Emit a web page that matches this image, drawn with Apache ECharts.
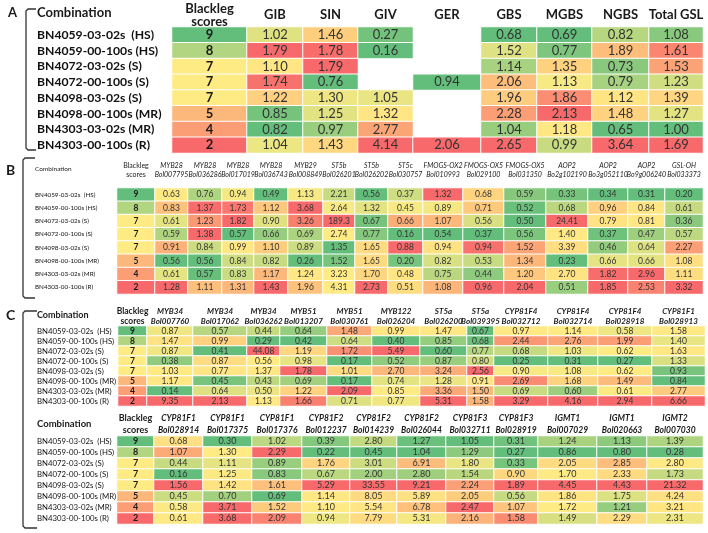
<!DOCTYPE html>
<html><head><meta charset="utf-8">
<script src="https://cdn.jsdelivr.net/npm/echarts@6/dist/echarts.min.js"></script>
<style>html,body{margin:0;padding:0;background:#fff}#c{width:708px;height:533px}</style>
</head><body><div id="c"></div>
<script>
// ---------- DATA ----------
const combos = ["BN4059-03-02s  (HS)","BN4059-00-100s (HS)","BN4072-03-02s (S)","BN4072-00-100s (S)","BN4098-03-02s (S)","BN4098-00-100s (MR)","BN4303-03-02s (MR)","BN4303-00-100s (R)"];
const blackleg = [9,8,7,7,7,5,4,2];
const blacklegHeader = "Blackleg\nscores";

// Panel A
const headersA = ["GIB","SIN","GIV","GER","GBS","MGBS","NGBS","Total GSL"];
const gib = [1.02,1.79,1.10,1.74,1.22,0.85,0.82,1.04];
const sin = [1.46,1.78,1.79,0.76,1.30,1.25,0.97,1.43];
const giv = [0.27,0.16,null,null,1.05,1.32,2.77,4.14];
const ger = [null,null,null,0.94,null,null,null,2.06];
const gbs = [0.68,1.52,1.14,2.06,1.96,2.28,1.04,2.65];
const mgbs = [0.69,0.77,1.35,1.13,1.86,2.13,1.18,0.99];
const ngbs = [0.82,1.89,0.73,0.79,1.12,1.48,0.65,3.64];
const totalGsl = [1.08,1.61,1.53,1.23,1.39,1.27,1.00,1.69];

// Panel B
const genesB = ["MYB28","MYB28","MYB28","MYB28","MYB29","ST5b","ST5b","ST5c","FMOGS-OX2","FMOGS-OX5","FMOGS-OX5","AOP2","AOP2","AOP2","GSL-OH"];
const idsB = ["Bol007795","Bol036286","Bol017019","Bol036743","Bol008849","Bol026201","Bol026202","Bol030757","Bol010993","Bol029100","Bol031350","Bo2g102190","Bo3g052110","Bo9g006240","Bol033373"];
const bol007795 = [0.63,0.83,0.61,0.59,0.91,0.56,0.61,1.28];
const bol036286 = [0.76,1.37,1.23,1.38,0.84,0.56,0.57,1.11];
const bol017019 = [0.94,1.73,1.82,0.57,0.99,0.84,0.83,1.31];
const bol036743 = [0.49,1.12,0.90,0.66,1.10,0.82,1.17,1.43];
const bol008849 = [1.13,3.68,3.26,0.69,0.89,0.26,1.24,1.96];
const bol026201 = [2.21,2.64,189.3,2.74,1.35,1.52,3.23,4.31];
const bol026202 = [0.56,1.32,0.67,0.77,1.65,1.65,1.70,2.73];
const bol030757 = [0.37,0.45,0.66,0.16,0.88,0.20,0.48,0.51];
const bol010993 = [1.32,0.89,1.07,0.54,0.94,0.82,0.75,1.08];
const bol029100 = [0.68,0.71,0.56,0.37,0.94,0.53,0.44,0.96];
const bol031350 = [0.59,0.52,0.50,0.56,1.52,1.34,1.20,2.04];
const bo2g102190 = [0.33,0.68,24.41,1.40,3.39,0.23,2.70,0.51];
const bo3g052110 = [0.34,0.96,0.79,0.37,0.46,0.66,1.82,1.85];
const bo9g006240 = [0.31,0.84,0.81,0.47,0.64,0.66,2.96,2.53];
const bol033373 = [0.20,0.61,0.36,0.57,2.27,1.08,1.11,3.32];

// Panel C (upper)
const genesC1 = ["MYB34","MYB34","MYB34","MYB51","MYB51","MYB122","ST5a","ST5a","CYP81F4","CYP81F4","CYP81F4","CYP81F1"];
const idsC1 = ["Bol007760","Bol017062","Bol036262","Bol013207","Bol030761","Bol026204","Bol026200","Bol039395","Bol032712","Bol032714","Bol028918","Bol028913"];
const bol007760 = [0.87,1.47,0.87,0.38,1.03,1.17,0.14,9.35];
const bol017062 = [0.57,0.99,0.41,0.87,0.77,0.45,0.64,2.13];
const bol036262 = [0.44,0.29,44.08,0.56,1.37,0.43,0.50,1.13];
const bol013207 = [0.64,0.42,1.19,0.98,1.78,0.69,1.22,1.66];
const bol030761 = [1.48,0.64,1.72,0.17,1.01,0.17,2.09,0.71];
const bol026204 = [0.99,0.40,5.49,0.52,2.70,0.74,0.85,0.77];
const bol026200 = [1.47,0.85,0.60,0.87,3.24,1.28,3.36,5.31];
const bol039395 = [0.67,0.68,0.77,0.80,2.56,0.91,1.50,1.58];
const bol032712 = [0.97,2.44,0.68,0.25,0.90,2.69,0.69,3.29];
const bol032714 = [1.14,2.76,1.03,0.31,1.08,1.68,0.60,4.16];
const bol028918 = [0.58,1.99,0.62,0.27,0.62,1.49,0.61,2.94];
const bol028913 = [1.58,1.40,1.63,1.33,0.93,0.84,2.77,6.66];

// Panel C (lower)
const genesC2 = ["CYP81F1","CYP81F1","CYP81F1","CYP81F2","CYP81F2","CYP81F2","CYP81F3","CYP81F3","IGMT1","IGMT1","IGMT2"];
const idsC2 = ["Bol028914","Bol017375","Bol017376","Bol012237","Bol014239","Bol026044","Bol032711","Bol028919","Bol007029","Bol020663","Bol007030"];
const bol028914 = [0.68,1.07,0.44,0.16,1.56,0.45,0.58,0.61];
const bol017375 = [0.30,1.30,1.11,1.25,1.42,0.70,3.71,3.68];
const bol017376 = [1.02,2.29,0.89,0.83,1.61,0.69,1.52,2.09];
const bol012237 = [0.39,0.22,1.76,0.67,5.29,1.14,1.10,0.94];
const bol014239 = [2.80,0.45,3.01,2.00,33.55,8.05,5.54,7.79];
const bol026044 = [1.27,1.04,6.91,2.80,9.21,5.89,6.78,5.31];
const bol032711 = [1.05,1.29,1.80,1.54,2.24,2.05,2.47,2.16];
const bol028919 = [0.31,0.27,0.33,0.90,1.89,0.56,1.07,1.58];
const bol007029 = [1.24,0.86,2.05,1.70,4.45,1.86,1.72,1.49];
const bol020663 = [1.13,0.80,2.85,2.33,4.43,1.75,1.21,2.29];
const bol007030 = [1.39,0.28,2.80,1.73,21.32,4.24,3.21,2.31];

// ---------- HELPERS ----------
const FONT = 'Lato';
function scale(vals, reverse){
  const s = vals.filter(v=>v!=null).slice().sort((a,b)=>a-b);
  const n = s.length, min = s[0], max = s[n-1];
  const pos = (n-1)*0.5, lo = Math.floor(pos), hi = Math.ceil(pos);
  const med = s[lo] + (s[hi]-s[lo])*(pos-lo);
  return vals.map(v=>{
    if (v==null) return null;
    let t;
    if (v <= med) t = med===min ? 0.5 : 0.5*(v-min)/(med-min);
    else t = max===med ? 0.5 : 0.5 + 0.5*(v-med)/(max-med);
    return reverse ? 1-t : t;
  });
}
const fmtNum = v => v >= 100 ? v.toFixed(1) : v.toFixed(2);

const grids=[], xAxes=[], yAxes=[], series=[];

function addPanel(p){
  p.columns.forEach((col, j)=>{
    const g = grids.length;
    grids.push({left:p.bounds[j], width:p.bounds[j+1]-p.bounds[j], top:p.top, height:p.height});
    const isBL = j===0;
    xAxes.push({
      type:'category', gridIndex:g, position:'top', data:[col.header],
      axisLine:{show:false}, axisTick:{show:false}, splitLine:{show:false},
      axisLabel:{
        interval:0, margin:p.headerMargin, verticalAlign:'middle',
        formatter: v=>v.split('\n').map((s,idx)=>'{'+(isBL?'b':(idx===0?'g':'i'))+'|'+s+'}').join('\n'),
        rich: p.headerRich
      }
    });
    yAxes.push({
      type:'category', gridIndex:g, data:combos, inverse:true,
      axisLine:{show:false}, axisTick:{show:false}, splitLine:{show:false},
      axisLabel:{show:j===0, align:'left', margin:p.bounds[0]-p.labelX, interval:0,
        color:'#111', fontFamily:FONT, fontSize:p.labelSize, fontWeight:p.labelWeight}
    });
    const t = scale(col.values, isBL);
    const data = [];
    col.values.forEach((v,i)=>{ if (v!=null) data.push([0,i,t[i],v]); });
    series.push({
      type:'heatmap', xAxisIndex:g, yAxisIndex:g, data:data,
      itemStyle:{borderColor:'#fff', borderWidth:1},
      label:{show:true, color:isBL?'#1a1a1a':'#333', fontFamily:FONT, fontSize:p.valueSize,
        fontWeight:isBL?'bold':'normal',
        formatter: prm => isBL ? String(prm.data[3]) : fmtNum(prm.data[3])},
      emphasis:{disabled:true}
    });
  });
}

// Panel A
addPanel({
  bounds:[172,247,303,358,413,481,537,592,649,703], top:27, height:126,
  labelX:37, labelSize:12.2, labelWeight:'bold', valueSize:13, headerMargin:12,
  headerRich:{
    b:{fontFamily:FONT, fontSize:13, fontWeight:'bold', color:'#1a1a1a', lineHeight:13},
    g:{fontFamily:FONT, fontSize:13, fontWeight:'bold', color:'#1a1a1a', lineHeight:13},
    i:{fontFamily:FONT, fontSize:13, fontWeight:'bold', color:'#1a1a1a', lineHeight:13}
  },
  columns:[{header:blacklegHeader, values:blackleg}].concat(
    [gib,sin,giv,ger,gbs,mgbs,ngbs,totalGsl].map((v,i)=>({header:headersA[i], values:v})))
});

// Panel B
const valuesB = [bol007795,bol036286,bol017019,bol036743,bol008849,bol026201,bol026202,bol030757,bol010993,bol029100,bol031350,bo2g102190,bo3g052110,bo9g006240,bol033373];
addPanel({
  bounds:[117,155,188,222,254,288,323,355,388,423,463,504,546,588,628,665,703], top:188, height:106,
  labelX:35, labelSize:6.3, labelWeight:'normal', valueSize:8.5, headerMargin:18,
  headerRich:{
    b:{fontFamily:FONT, fontSize:7, color:'#1a1a1a', lineHeight:9},
    g:{fontFamily:FONT, fontSize:7, fontStyle:'italic', color:'#1a1a1a', lineHeight:9},
    i:{fontFamily:FONT, fontSize:7, fontStyle:'italic', color:'#1a1a1a', lineHeight:9}
  },
  columns:[{header:blacklegHeader, values:blackleg}].concat(
    valuesB.map((v,i)=>({header:genesB[i]+'\n'+idsB[i], values:v})))
});

// Panel C upper
const valuesC1 = [bol007760,bol017062,bol036262,bol013207,bol030761,bol026204,bol026200,bol039395,bol032712,bol032714,bol028918,bol028913];
addPanel({
  bounds:[118,147,193,247,280,327,372,420,467,494,548,598,652,705], top:326, height:80,
  labelX:37, labelSize:7.8, labelWeight:'normal', valueSize:8.5, headerMargin:10,
  headerRich:{
    b:{fontFamily:FONT, fontSize:8.5, fontWeight:'bold', color:'#1a1a1a', lineHeight:10},
    g:{fontFamily:FONT, fontSize:8, fontWeight:'bold', fontStyle:'italic', color:'#1a1a1a', lineHeight:10},
    i:{fontFamily:FONT, fontSize:8, fontWeight:'bold', fontStyle:'italic', color:'#1a1a1a', lineHeight:10}
  },
  columns:[{header:blacklegHeader, values:blackleg}].concat(
    valuesC1.map((v,i)=>({header:genesC1[i]+'\n'+idsC1[i], values:v})))
});

// Panel C lower
const valuesC2 = [bol028914,bol017375,bol017376,bol012237,bol014239,bol026044,bol032711,bol028919,bol007029,bol020663,bol007030];
addPanel({
  bounds:[117,154,203,252,302,350,397,446,494,538,597,647,703], top:436, height:88,
  labelX:37, labelSize:7.8, labelWeight:'normal', valueSize:9, headerMargin:12,
  headerRich:{
    b:{fontFamily:FONT, fontSize:9, fontWeight:'bold', color:'#1a1a1a', lineHeight:12},
    g:{fontFamily:FONT, fontSize:8.5, fontWeight:'bold', fontStyle:'italic', color:'#1a1a1a', lineHeight:12},
    i:{fontFamily:FONT, fontSize:8.5, fontWeight:'bold', fontStyle:'italic', color:'#1a1a1a', lineHeight:12}
  },
  columns:[{header:blacklegHeader, values:blackleg}].concat(
    valuesC2.map((v,i)=>({header:genesC2[i]+'\n'+idsC2[i], values:v})))
});

// ---------- DECORATIONS ----------
const txt = (x,y,s,size,weight)=>({type:'text', left:x, top:y-size*0.6, silent:true,
  style:{text:s, fontFamily:FONT, fontSize:size, fontWeight:weight||'normal', fill:'#1a1a1a'}});
const bracket = (x, y0, y1, w)=>({type:'polyline', silent:true,
  shape:{points:[[x+w,y0],[x+2,y0],[x,y0+2],[x,y1-2],[x+2,y1],[x+w,y1]]},
  style:{stroke:'#333', lineWidth:1.3, fill:null}});

const graphic = [
  txt(8,14,'A',13,'bold'), txt(37,14,'Combination',13,'bold'), bracket(26,9,150,10),
  txt(6,172,'B',14,'bold'), txt(35,169,'Combination',6.5,'normal'), bracket(23,158,298,12),
  txt(6,317,'C',14,'bold'), txt(37,316,'Combination',9,'bold'),
  txt(37,425,'Combination',9.5,'bold'), bracket(23,311,528,14)
];

const chart = echarts.init(document.getElementById('c'), null, {renderer:'canvas'});
chart.setOption({
  animation:false,
  backgroundColor:'#fff',
  grid:grids, xAxis:xAxes, yAxis:yAxes, series:series,
  visualMap:{type:'continuous', show:false, min:0, max:1, dimension:2,
    seriesIndex:series.map((s,i)=>i),
    inRange:{color:['#63BE7B','#FFEB84','#F8696B']}},
  graphic:graphic
});
</script>
</body></html>
